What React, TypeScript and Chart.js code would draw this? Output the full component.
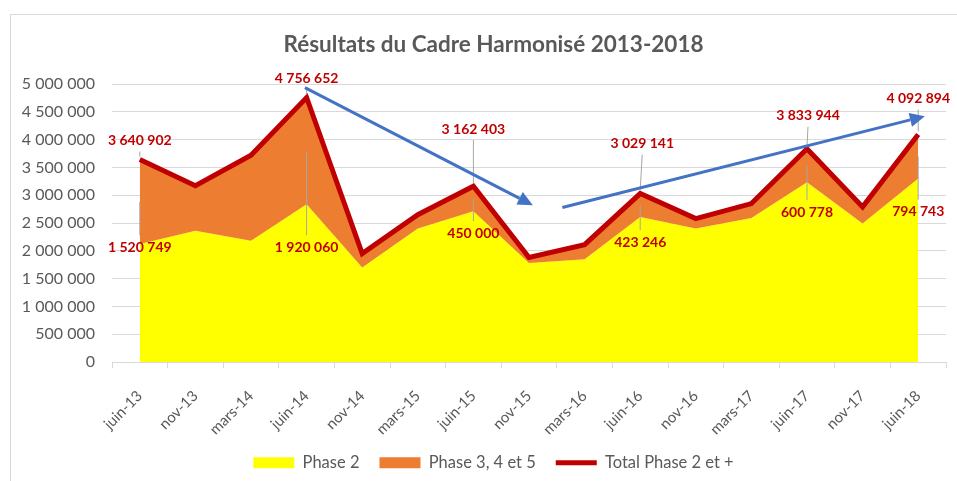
import React, { useEffect, useRef } from "react";
import { Chart, registerables } from "chart.js";

Chart.register(...registerables);

const categories = [
  "juin-13", "nov-13", "mars-14", "juin-14", "nov-14", "mars-15", "juin-15", "nov-15",
  "mars-16", "juin-16", "nov-16", "mars-17", "juin-17", "nov-17", "juin-18",
];
const phase2 = [
  2120153, 2360000, 2180000, 2836592, 1700000, 2400000, 2712403, 1780000,
  1850000, 2605895, 2400000, 2590000, 3233166, 2490000, 3298151,
];
const phase345 = [
  1520749, 810000, 1540000, 1920060, 250000, 250000, 450000, 100000,
  260000, 423246, 180000, 260000, 600778, 300000, 794743,
];
const total = [
  3640902, 3170000, 3720000, 4756652, 1950000, 2650000, 3162403, 1880000,
  2110000, 3029141, 2580000, 2850000, 3833944, 2790000, 4092894,
];
const labelledIndices = [0, 3, 6, 9, 12, 14];
const seriesNames = ["Phase 2", "Phase 3, 4 et 5", "Total Phase 2 et +"];
const yTicks = { min: 0, max: 5000000, step: 500000 };
// trend arrows in data coordinates: [categoryIndex, value]
const trendArrows = [
  { from: [2.97, 4935000], to: [7.07, 2820000] },
  { from: [7.6, 2780000], to: [14.12, 4420000] },
];

// label layout (pixel offsets), kept apart from data
const totalLabelDy = [-19, -19, -57, -50, -33, -36];
const totalLabelDx = [0, 0, 0, 2, 1, 0];
const orangeLabelDy = [3, 43, 22, 25, 30, 33];

const COLORS = {
  yellow: "#FFFF00",
  orange: "#ED7D31",
  red: "#C00000",
  blue: "#4472C4",
  text: "#595959",
  grid: "#D9D9D9",
  leader: "#A6A6A6",
};

const fmt = (v: number) => String(Math.round(v)).replace(/\B(?=(\d{3})+(?!\d))/g, " ");

const annotPlugin = {
  id: "annot",
  afterDatasetsDraw(chart: any) {
    const { ctx } = chart;
    const x = chart.scales.x;
    const y = chart.scales.y;
    ctx.save();
    // leader lines
    ctx.strokeStyle = COLORS.leader;
    ctx.lineWidth = 1;
    labelledIndices.forEach((idx, k) => {
      const px = x.getPixelForValue(idx);
      const pTot = y.getPixelForValue(total[idx]);
      const pP2 = y.getPixelForValue(phase2[idx]);
      const ly = pTot + totalLabelDy[k];
      if (pTot - 3 - (ly + 11) > 4) {
        ctx.beginPath();
        ctx.moveTo(px + totalLabelDx[k], ly + 11);
        ctx.lineTo(px, pTot - 3);
        ctx.stroke();
      }
      const oy = pP2 + orangeLabelDy[k];
      const mid = (pTot + pP2) / 2;
      if (oy - 12 - mid > 4) {
        ctx.beginPath();
        ctx.moveTo(px, mid);
        ctx.lineTo(px, oy - 12);
        ctx.stroke();
      }
    });
    // arrows
    ctx.strokeStyle = COLORS.blue;
    ctx.fillStyle = COLORS.blue;
    ctx.lineWidth = 3;
    for (const a of trendArrows) {
      const x1 = x.getPixelForValue(a.from[0]);
      const y1 = y.getPixelForValue(a.from[1]);
      const x2 = x.getPixelForValue(a.to[0]);
      const y2 = y.getPixelForValue(a.to[1]);
      const ang = Math.atan2(y2 - y1, x2 - x1);
      const hl = 15;
      const hw = 7;
      const bx = x2 - hl * Math.cos(ang);
      const by = y2 - hl * Math.sin(ang);
      ctx.beginPath();
      ctx.moveTo(x1, y1);
      ctx.lineTo(bx, by);
      ctx.stroke();
      ctx.beginPath();
      ctx.moveTo(x2, y2);
      ctx.lineTo(bx + hw * Math.sin(ang), by - hw * Math.cos(ang));
      ctx.lineTo(bx - hw * Math.sin(ang), by + hw * Math.cos(ang));
      ctx.closePath();
      ctx.fill();
    }
    // labels
    ctx.font = "bold 14px Lato";
    ctx.fillStyle = COLORS.red;
    ctx.textAlign = "center";
    ctx.textBaseline = "middle";
    labelledIndices.forEach((idx, k) => {
      const px = x.getPixelForValue(idx);
      const pTot = y.getPixelForValue(total[idx]);
      const pP2 = y.getPixelForValue(phase2[idx]);
      ctx.fillText(fmt(total[idx]), px + totalLabelDx[k], pTot + totalLabelDy[k]);
      ctx.fillText(fmt(phase345[idx]), px, pP2 + orangeLabelDy[k]);
    });
    ctx.restore();
  },
};

export default function App() {
  const ref = useRef<HTMLCanvasElement>(null);
  useEffect(() => {
    if (!ref.current) return;
    Chart.defaults.font.family = "Lato";
    const legendColors = [COLORS.yellow, COLORS.orange, COLORS.red];
    const chart = new Chart(ref.current, {
      type: "line",
      data: {
        labels: categories,
        datasets: [
          {
            label: seriesNames[0],
            data: phase2,
            backgroundColor: COLORS.yellow,
            borderWidth: 0,
            pointRadius: 0,
            fill: "origin",
            order: 2,
          },
          {
            label: seriesNames[1],
            data: phase2.map((v, i) => v + phase345[i]),
            backgroundColor: COLORS.orange,
            borderWidth: 0,
            pointRadius: 0,
            fill: "-1",
            order: 1,
          },
          {
            label: seriesNames[2],
            data: total,
            borderColor: COLORS.red,
            backgroundColor: COLORS.red,
            borderWidth: 5,
            pointRadius: 0,
            fill: false,
            order: 0,
          },
        ],
      },
      options: {
        responsive: false,
        animation: false,
        devicePixelRatio: 1,
        layout: { padding: { left: 22, right: 12, top: 0, bottom: 0 } },
        plugins: {
          title: {
            display: true,
            text: "Résultats du Cadre Harmonisé 2013-2018",
            color: COLORS.text,
            font: { family: "Lato", size: 22.5, weight: "bold" },
            padding: { top: 31.5, bottom: 25.5 },
          },
          legend: {
            position: "bottom",
            labels: {
              usePointStyle: true,
              pointStyleWidth: 41,
              boxHeight: 11,
              color: COLORS.text,
              font: { family: "Lato", size: 16.5 },
              padding: 20,
              generateLabels: (c: any) =>
                c.data.datasets.map((ds: any, i: number) => ({
                  text: ds.label,
                  fillStyle: legendColors[i],
                  strokeStyle: legendColors[i],
                  lineWidth: i === 2 ? 5 : 0,
                  pointStyle: i === 2 ? "line" : "rect",
                  hidden: false,
                  datasetIndex: i,
                  fontColor: COLORS.text,
                })),
            },
          },
          tooltip: { enabled: false },
        },
        scales: {
          x: {
            offset: true,
            afterFit: (s: any) => {
              s.height = 72.5;
            },
            grid: {
              display: true,
              drawOnChartArea: false,
              drawTicks: true,
              tickLength: 6,
              color: COLORS.grid,
              offset: true,
            },
            border: { display: true, color: COLORS.grid, width: 1 },
            ticks: {
              color: COLORS.text,
              font: { family: "Lato", size: 15 },
              maxRotation: 45,
              minRotation: 45,
              padding: 19,
            },
          },
          y: {
            min: yTicks.min,
            max: yTicks.max,
            afterFit: (s: any) => {
              s.width = 90;
            },
            grid: { color: COLORS.grid, drawTicks: false, lineWidth: 1 },
            border: { display: false },
            ticks: {
              stepSize: yTicks.step,
              color: COLORS.text,
              font: { family: "Lato", size: 16 },
              padding: 17,
              callback: (v: any) => fmt(Number(v)),
            },
          },
          y2: {
            position: "right",
            display: true,
            min: yTicks.min,
            max: yTicks.max,
            afterFit: (s: any) => {
              s.width = 19;
            },
            grid: { display: false, drawTicks: false },
            border: { display: false },
            ticks: { display: false },
          },
        },
      },
      plugins: [annotPlugin],
    });
    return () => chart.destroy();
  }, []);

  return (
    <div
      style={{
        position: "fixed",
        left: 0,
        top: 0,
        width: 957,
        height: 481,
        background: "#fff",
        overflow: "hidden",
      }}
    >
      <div
        style={{
          position: "absolute",
          left: 10,
          top: 14,
          width: 1000,
          height: 500,
          border: "1px solid #D9D9D9",
          boxSizing: "border-box",
        }}
      />
      <canvas
        ref={ref}
        width={977}
        height={481}
        style={{ position: "absolute", left: 0, top: 0 }}
      />
    </div>
  );
}
